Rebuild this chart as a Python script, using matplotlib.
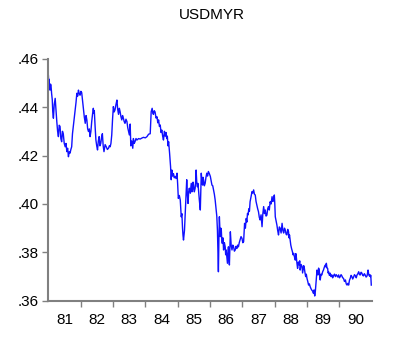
import numpy as np
import matplotlib.pyplot as plt
from matplotlib.ticker import FixedLocator, FuncFormatter

# USD/MYR rate as (decimal year, value) pairs, split by period
rate_81_83 = [
    (81.00, .4530), (81.01, .4500), (81.02, .4515), (81.035, .4475), (81.05, .4470),
    (81.065, .4495), (81.08, .4490), (81.10, .4455), (81.12, .4430), (81.135, .4380),
    (81.155, .4354), (81.18, .4410), (81.21, .4436), (81.235, .4385), (81.26, .4340),
    (81.285, .4300), (81.31, .4278), (81.335, .4325), (81.36, .4320), (81.385, .4270),
    (81.41, .4257), (81.435, .4300), (81.46, .4290), (81.49, .4250), (81.52, .4236),
    (81.545, .4250), (81.57, .4216), (81.595, .4230), (81.62, .4195), (81.645, .4215),
    (81.67, .4210), (81.695, .4225), (81.72, .4236), (81.745, .4290), (81.77, .4319),
    (81.80, .4350), (81.83, .4388), (81.855, .4420), (81.88, .4457), (81.905, .4445),
    (81.93, .4470), (81.955, .4455), (81.98, .4449), (82.005, .4465), (82.03, .4460),
    (82.055, .4430), (82.08, .4402), (82.11, .4360), (82.14, .4333), (82.165, .4365),
    (82.19, .4347), (82.215, .4310), (82.24, .4299), (82.265, .4310), (82.29, .4278),
    (82.315, .4300), (82.34, .4340), (82.365, .4370), (82.39, .4395), (82.405, .4375),
    (82.42, .4385), (82.445, .4320), (82.47, .4264), (82.495, .4240), (82.52, .4223),
    (82.545, .4260), (82.57, .4278), (82.595, .4240), (82.62, .4250), (82.645, .4275),
    (82.67, .4290), (82.695, .4240), (82.72, .4216), (82.755, .4245), (82.79, .4236),
    (82.825, .4225), (82.86, .4230), (82.885, .4240), (82.91, .4236), (82.935, .4250),
    (82.96, .4285), (82.985, .4350), (83.01, .4402), (83.035, .4380), (83.06, .4388),
    (83.09, .4410), (83.12, .4429), (83.145, .4390), (83.17, .4370), (83.195, .4395),
    (83.22, .4380), (83.245, .4360), (83.27, .4347), (83.295, .4365), (83.32, .4354),
    (83.345, .4340), (83.37, .4333), (83.40, .4350), (83.43, .4340), (83.455, .4315),
    (83.48, .4299), (83.505, .4285), (83.53, .4330), (83.55, .4240), (83.58, .4260),
    (83.61, .4230), (83.63, .4270), (83.655, .4250), (83.68, .4257), (83.71, .4270),
    (83.74, .4264), (83.79, .4270), (83.84, .4268), (83.89, .4272), (83.94, .4275),
]
rate_84_86 = [
    (84.00, .4273), (84.05, .4278), (84.10, .4288), (84.15, .4290), (84.165, .4340),
    (84.18, .4381), (84.21, .4395), (84.23, .4375), (84.25, .4370), (84.275, .4385),
    (84.30, .4380), (84.33, .4355), (84.36, .4360), (84.385, .4335), (84.41, .4347),
    (84.435, .4320), (84.46, .4326), (84.485, .4295), (84.51, .4305), (84.535, .4280),
    (84.56, .4264), (84.59, .4300), (84.615, .4280), (84.64, .4295), (84.66, .4270),
    (84.68, .4280), (84.70, .4240), (84.72, .4257), (84.75, .4209), (84.78, .4154),
    (84.80, .4100), (84.82, .4140), (84.845, .4115), (84.87, .4125), (84.895, .4108),
    (84.92, .4114), (84.95, .4105), (84.98, .4127), (85.00, .4080), (85.02, .4023),
    (85.05, .4035), (85.08, .4016), (85.11, .3947), (85.13, .3960), (85.15, .3900),
    (85.165, .3870), (85.18, .3851), (85.21, .3890), (85.23, .3950), (85.25, .4016),
    (85.265, .4060), (85.28, .4100), (85.30, .4040), (85.32, .4002), (85.34, .4050),
    (85.36, .4065), (85.39, .4044), (85.42, .4085), (85.44, .4050), (85.46, .4058),
    (85.475, .4090), (85.49, .4078), (85.515, .4050), (85.54, .4065), (85.555, .4090),
    (85.57, .4140), (85.59, .4090), (85.61, .4071), (85.625, .4085), (85.64, .4065),
    (85.67, .4016), (85.70, .3975), (85.715, .4060), (85.73, .4127), (85.75, .4095),
    (85.77, .4078), (85.785, .4110), (85.80, .4100), (85.825, .4075), (85.85, .4085),
    (85.875, .4110), (85.90, .4127), (85.925, .4115), (85.95, .4134), (85.98, .4125),
    (86.01, .4114), (86.035, .4095), (86.06, .4078), (86.085, .4075), (86.11, .4058),
    (86.135, .4040), (86.16, .4016), (86.19, .3975), (86.21, .3950), (86.23, .3892),
    (86.245, .3800), (86.26, .3720), (86.275, .3850), (86.29, .3947), (86.305, .3900),
    (86.32, .3865), (86.335, .3900), (86.35, .3892), (86.365, .3850), (86.38, .3837),
    (86.40, .3860), (86.42, .3810), (86.445, .3840), (86.47, .3823), (86.485, .3790),
    (86.50, .3810), (86.52, .3780), (86.54, .3755), (86.555, .3800), (86.57, .3823),
    (86.585, .3780), (86.60, .3748), (86.615, .3820), (86.63, .3885), (86.655, .3830),
    (86.68, .3810), (86.705, .3830), (86.73, .3823), (86.755, .3805), (86.78, .3810),
    (86.805, .3825), (86.83, .3816), (86.855, .3830), (86.88, .3823), (86.905, .3840),
    (86.93, .3851), (86.96, .3865),
]
rate_87_90 = [
    (86.99, .3858), (87.015, .3840), (87.04, .3844), (87.055, .3880), (87.07, .3920),
    (87.095, .3900), (87.12, .3940), (87.14, .3925), (87.16, .3961), (87.18, .3955),
    (87.20, .3980), (87.22, .3970), (87.24, .4009), (87.27, .4030), (87.30, .4051),
    (87.325, .4045), (87.35, .4058), (87.375, .4040), (87.40, .4037), (87.425, .4010),
    (87.45, .3995), (87.475, .3980), (87.50, .3968), (87.525, .3945), (87.55, .3934),
    (87.58, .3955), (87.61, .3906), (87.635, .3960), (87.66, .3989), (87.685, .3960),
    (87.71, .3975), (87.735, .3950), (87.76, .3954), (87.785, .3980), (87.81, .3989),
    (87.835, .3975), (87.86, .4009), (87.89, .4000), (87.92, .4030), (87.945, .4010),
    (87.97, .4023), (87.99, .4037), (88.005, .4000), (88.02, .3947), (88.045, .3930),
    (88.07, .3913), (88.095, .3890), (88.12, .3872), (88.145, .3905), (88.17, .3900),
    (88.20, .3880), (88.23, .3920), (88.255, .3890), (88.28, .3880), (88.305, .3900),
    (88.33, .3892), (88.355, .3875), (88.38, .3872), (88.405, .3895), (88.43, .3885),
    (88.445, .3860), (88.46, .3872), (88.48, .3850), (88.50, .3830), (88.525, .3815),
    (88.55, .3803), (88.57, .3790), (88.59, .3796), (88.615, .3780), (88.64, .3768),
    (88.655, .3795), (88.67, .3782), (88.69, .3755), (88.71, .3734), (88.735, .3760),
    (88.76, .3748), (88.775, .3765), (88.79, .3727), (88.82, .3750), (88.85, .3741),
    (88.865, .3715), (88.88, .3727), (88.90, .3745), (88.92, .3734), (88.94, .3715),
    (88.96, .3700), (88.98, .3710), (89.00, .3693), (89.025, .3680), (89.05, .3665),
    (89.075, .3670), (89.10, .3658), (89.125, .3650), (89.15, .3644), (89.175, .3640),
    (89.20, .3631), (89.22, .3645), (89.24, .3620), (89.26, .3640), (89.28, .3672),
    (89.295, .3700), (89.31, .3727), (89.325, .3710), (89.34, .3707), (89.36, .3735),
    (89.38, .3727), (89.395, .3700), (89.41, .3686), (89.435, .3710), (89.46, .3707),
    (89.485, .3720), (89.51, .3727), (89.54, .3740), (89.57, .3748), (89.585, .3740),
    (89.60, .3755), (89.62, .3735), (89.64, .3734), (89.655, .3715), (89.67, .3720),
    (89.695, .3705), (89.72, .3714), (89.745, .3700), (89.77, .3707), (89.795, .3695),
    (89.82, .3703), (89.85, .3710), (89.88, .3700), (89.905, .3708), (89.93, .3703),
    (89.955, .3698), (89.98, .3707), (90.005, .3695), (90.03, .3700), (90.055, .3708),
    (90.08, .3703), (90.105, .3695), (90.13, .3693), (90.16, .3680), (90.19, .3686),
    (90.215, .3670), (90.24, .3665), (90.265, .3672), (90.29, .3665), (90.315, .3685),
    (90.34, .3693), (90.365, .3705), (90.39, .3700), (90.415, .3690), (90.44, .3697),
    (90.47, .3708), (90.50, .3703), (90.525, .3695), (90.55, .3707), (90.575, .3712),
    (90.60, .3720), (90.625, .3708), (90.65, .3707), (90.675, .3718), (90.70, .3714),
    (90.725, .3705), (90.75, .3703), (90.775, .3712), (90.80, .3707), (90.83, .3698),
    (90.86, .3703), (90.875, .3715), (90.89, .3727), (90.91, .3710), (90.93, .3703),
    (90.945, .3708), (90.96, .3700), (90.975, .3705), (90.99, .3665),
]
year_labels = ["81", "82", "83", "84", "85", "86", "87", "88", "89", "90"]
y_ticks = [.36, .38, .40, .42, .44, .46]

dates, usdmyr = zip(*(rate_81_83 + rate_84_86 + rate_87_90))

plt.rcParams['font.family'] = ['Liberation Sans', 'DejaVu Sans']

fig = plt.figure(figsize=(4.0, 3.43), dpi=100)
ax = fig.add_axes([0.121, 0.123, 0.808, 0.706])

ax.plot(dates, usdmyr, color='#1010ff', lw=1.0)

ax.set_xlim(81.0, 91.0)
ax.set_ylim(.36, .46)

# year boundaries get the ticks, labels sit mid-year
years = np.arange(81, 91)
ax.xaxis.set_major_locator(FixedLocator(years + 0.5))
ax.set_xticklabels(year_labels)
ax.xaxis.set_minor_locator(FixedLocator(np.arange(82, 91)))
ax.tick_params(axis='x', which='major', length=0, pad=9, labelsize=11)
ax.tick_params(axis='x', which='minor', length=4, width=1, color='#808080')

ax.yaxis.set_major_locator(FixedLocator(y_ticks))
ax.yaxis.set_major_formatter(FuncFormatter(lambda v, p: ("%.2f" % v)[1:]))
ax.tick_params(axis='y', length=4, width=1, color='#808080', pad=3, labelsize=11)

for s in ['top', 'right']:
    ax.spines[s].set_visible(False)
for s in ['left', 'bottom']:
    ax.spines[s].set_color('#808080')
    ax.spines[s].set_linewidth(1.5)

fig.text(0.53, 1 - 15 / 343, "USDMYR", ha='center', va='center', fontsize=11)

fig.savefig('out.png', dpi=100)
